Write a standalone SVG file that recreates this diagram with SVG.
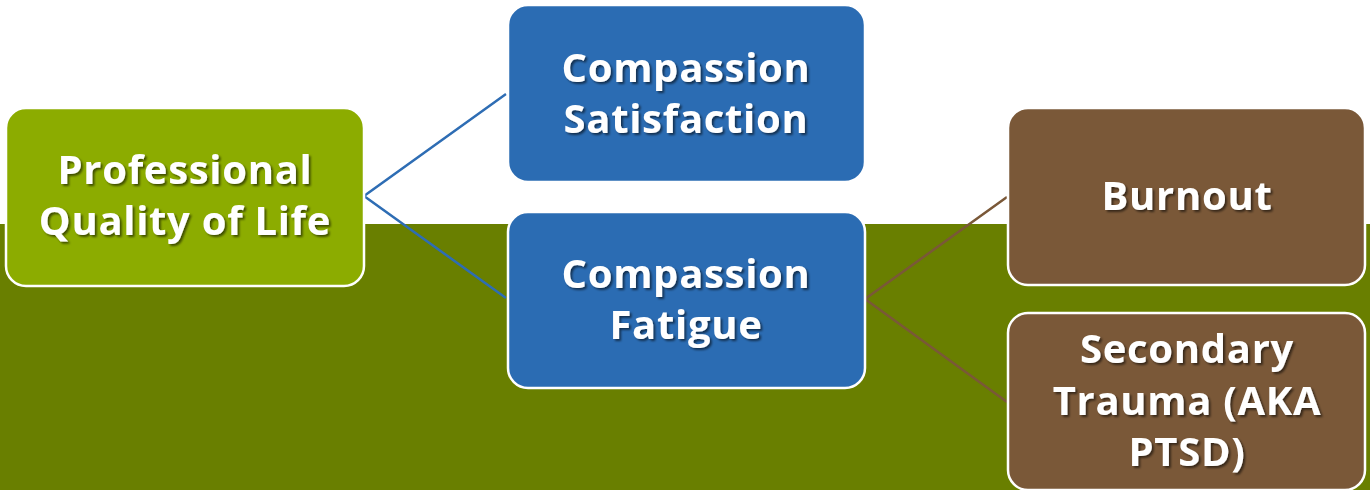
<svg xmlns="http://www.w3.org/2000/svg" width="1370" height="490" viewBox="0 0 1370 490">
  <defs>
    <filter id="txtShadow" x="-10%" y="-20%" width="130%" height="150%">
      <feDropShadow dx="2" dy="2" stdDeviation="1.2" flood-color="#000000" flood-opacity="0.55"/>
    </filter>
  </defs>
  <style>
    .node { stroke: #ffffff; stroke-width: 2.5; }
    .root { fill: #8cac00; }
    .mid { fill: #2b6cb3; }
    .leaf { fill: #7a5838; }
    .label { font-family: "Open Sans", "Liberation Sans", sans-serif; font-weight: bold; font-size: 40px; letter-spacing: 0.7px; fill: #ffffff; text-anchor: middle; filter: url(#txtShadow); }
    .link { fill: none; stroke-width: 2.5; }
    .link-blue { stroke: #2e6db4; }
    .link-brown { stroke: #7a5838; }
  </style>

  <!-- background: white top, olive band below -->
  <rect x="0" y="0" width="1370" height="490" fill="#ffffff"/>
  <rect x="0" y="224" width="1370" height="266" fill="#697f00"/>

  <!-- connectors -->
  <g id="connectors">
    <polyline class="link link-blue" points="506,94 364,196 506,298"/>
    <polyline class="link link-brown" points="1007,197 865,299 1007,402"/>
  </g>

  <g id="node-pqol">
    <rect class="node root" x="6" y="108" width="358" height="178" rx="20"/>
    <text class="label" x="185" y="184">Professional</text>
    <text class="label" x="185" y="235">Quality of Life</text>
  </g>

  <g id="node-satisfaction">
    <rect class="node mid" x="508" y="5" width="357" height="177" rx="20"/>
    <text class="label" x="686" y="82">Compassion</text>
    <text class="label" x="686" y="133">Satisfaction</text>
  </g>

  <g id="node-fatigue">
    <rect class="node mid" x="508" y="212" width="357" height="176" rx="20"/>
    <text class="label" x="686" y="288">Compassion</text>
    <text class="label" x="686" y="339">Fatigue</text>
  </g>

  <g id="node-burnout">
    <rect class="node leaf" x="1008" y="108" width="357" height="177" rx="20"/>
    <text class="label" x="1187" y="210">Burnout</text>
  </g>

  <g id="node-secondary">
    <rect class="node leaf" x="1008" y="313" width="357" height="177" rx="20"/>
    <text class="label" x="1187" y="363">Secondary</text>
    <text class="label" x="1187" y="415">Trauma (AKA</text>
    <text class="label" x="1187" y="466">PTSD)</text>
  </g>
</svg>
